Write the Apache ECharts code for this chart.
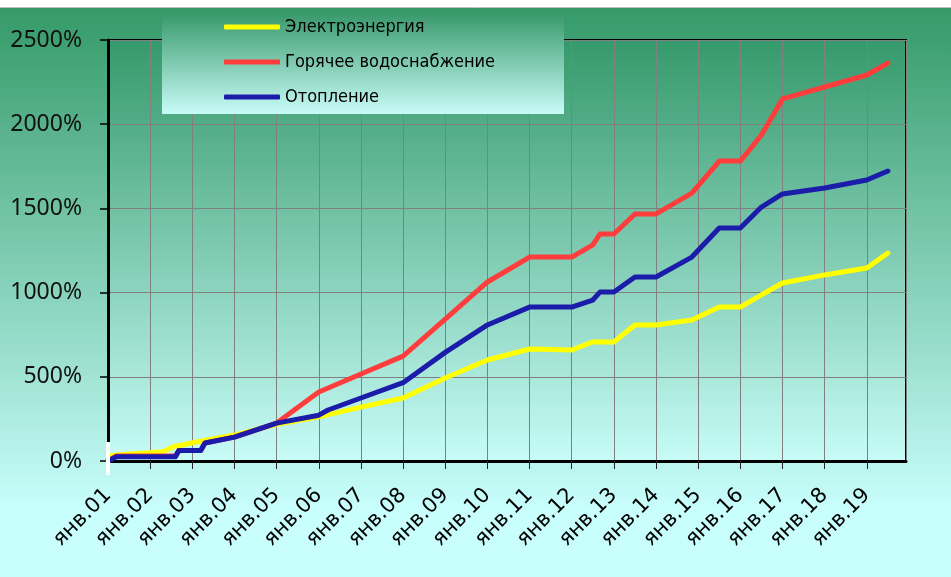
<!DOCTYPE html>
<html>
<head>
<meta charset="utf-8">
<script src="https://cdn.jsdelivr.net/npm/echarts@6/dist/echarts.min.js"></script>
<style>
  html, body { margin: 0; padding: 0; background: #fff; }
  #chart { width: 951px; height: 577px; }
</style>
</head>
<body>
<div id="chart"></div>
<script>
// x = years since Jan 2001, y = cumulative growth, %
const seriesNames = ['Электроэнергия', 'Горячее водоснабжение', 'Отопление'];
const xTickLabels = ['янв.01', 'янв.02', 'янв.03', 'янв.04', 'янв.05', 'янв.06', 'янв.07',
  'янв.08', 'янв.09', 'янв.10', 'янв.11', 'янв.12', 'янв.13', 'янв.14', 'янв.15',
  'янв.16', 'янв.17', 'янв.18', 'янв.19'];

const elecPoints = [[0, 30], [0.2, 35], [1.3, 55], [1.55, 85], [2.1, 113], [3, 154], [4, 218],
  [5, 262], [6, 320], [7, 374], [8, 493], [9, 600], [10, 665], [11, 659], [11.5, 707],
  [12, 707], [12.5, 808], [13, 808], [13.85, 837], [14.5, 914], [15, 914], [15.5, 986],
  [16, 1057], [17, 1105], [18, 1146], [18.5, 1235]];
const hotWaterPoints = [[0, 0], [0.2, 30], [1.6, 30], [1.68, 62], [2.2, 62], [2.3, 107],
  [3, 142], [4, 225], [5, 410], [6, 517], [7, 623], [8, 843], [9, 1063], [10, 1211],
  [11, 1211], [11.5, 1283], [11.67, 1348], [12, 1348], [12.5, 1467], [13, 1467],
  [13.85, 1591], [14.5, 1781], [15, 1781], [15.5, 1936], [16, 2150], [17, 2221],
  [18, 2292], [18.5, 2363]];
const heatPoints = [[0, 0], [0.2, 25], [1.6, 25], [1.68, 62], [2.2, 62], [2.3, 107],
  [3, 142], [4, 225], [5, 272], [5.22, 303], [6, 374], [7, 465], [8, 645], [9, 808],
  [10, 914], [11, 914], [11.5, 956], [11.67, 1003], [12, 1003], [12.5, 1093], [13, 1093],
  [13.85, 1211], [14.5, 1384], [15, 1384], [15.5, 1508], [16, 1586], [17, 1621],
  [18, 1669], [18.5, 1722]];

const colors = ['#ffff00', '#ff3d3d', '#1c1caa'];

const grad = (a, b, stop) => new echarts.graphic.LinearGradient(0, 0, 0, 1, [
  { offset: 0, color: a },
  { offset: stop, color: b },
  { offset: 1, color: b }
]);

const chart = echarts.init(document.getElementById('chart'));

chart.setOption({
  animation: false,
  backgroundColor: '#ffffff',
  color: colors,
  graphic: [
    { type: 'rect', z: -10, shape: { x: 0, y: 8, width: 951, height: 569 },
      style: { fill: grad('#359a68', '#c8fefc', 0.88) } },
    { type: 'line', z: -9, shape: { x1: 0, y1: 7.5, x2: 951, y2: 7.5 },
      style: { stroke: '#c0c0c0', lineWidth: 1 } },
    { type: 'rect', z: 3, shape: { x: 162, y: 14, width: 402, height: 100 },
      style: { fill: grad('#3a9a6c', '#c8fcf8', 1) } },
    { type: 'rect', z: 100, shape: { x: 106, y: 442, width: 4, height: 33 },
      style: { fill: '#ffffff' } }
  ],
  legend: {
    data: seriesNames,
    orient: 'vertical',
    left: 224,
    top: 17,
    padding: 0,
    itemWidth: 56,
    itemHeight: 5,
    itemGap: 15,
    icon: 'roundRect',
    textStyle: {
      fontFamily: 'DejaVu Sans Condensed',
      fontSize: 18,
      color: '#000',
      lineHeight: 20
    }
  },
  grid: {
    left: 108,
    right: 45,
    top: 40,
    bottom: 116,
    show: true,
    borderColor: '#000',
    borderWidth: 2,
    backgroundColor: grad('#35996a', '#c8fcf8', 1)
  },
  xAxis: {
    type: 'value',
    min: 0,
    max: 18.93,
    interval: 1,
    axisLine: { lineStyle: { color: '#000', width: 3 } },
    axisTick: { length: 8, lineStyle: { color: '#222', width: 1 } },
    splitLine: { show: true, lineStyle: { color: '#808080', width: 1 } },
    axisLabel: {
      rotate: 45,
      margin: 31,
      showMaxLabel: false,
      fontFamily: 'DejaVu Sans',
      fontSize: 21,
      color: '#000',
      formatter: v => xTickLabels[Math.round(v)] || ''
    }
  },
  yAxis: {
    type: 'value',
    min: 0,
    max: 2500,
    interval: 500,
    axisLine: { show: true, lineStyle: { color: '#000', width: 3 } },
    axisTick: { show: true, length: 8, lineStyle: { color: '#000', width: 1.5 } },
    splitLine: { show: true, lineStyle: { color: '#808080', width: 1 } },
    axisLabel: {
      margin: 26,
      fontFamily: 'Noto Sans',
      fontSize: 23,
      color: '#111',
      formatter: v => v + '%'
    }
  },
  series: [elecPoints, hotWaterPoints, heatPoints].map((pts, i) => ({
    name: seriesNames[i],
    type: 'line',
    data: pts,
    symbol: 'none',
    lineStyle: { width: 5, color: colors[i], cap: 'round', join: 'round' }
  }))
});
</script>
</body>
</html>
